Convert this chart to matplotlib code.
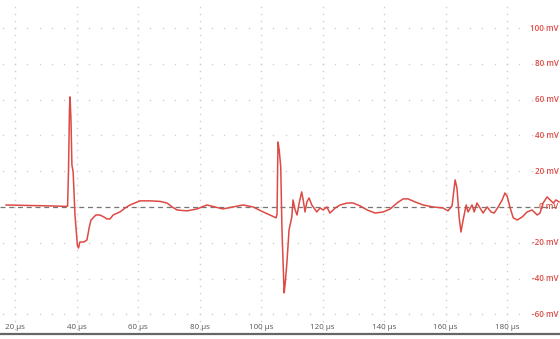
import matplotlib.pyplot as plt
import numpy as np

# time (us) and voltage (mV)
t_us = [17.1, 24.9, 31.4, 36.6, 37.1, 37.4, 37.7, 37.9, 38.2, 38.5, 38.9, 39.5,
        40.3, 40.65, 41.1, 42.4, 43.4, 44.1, 44.7, 45.4, 46.3, 47.6, 48.9, 49.9,
        50.9, 51.9, 54.1, 55.8, 57.4, 60.65, 63.9, 67.2, 69.4, 71.1, 72.7, 75.9,
        79.2, 82.4, 85.0, 87.6, 90.9, 94.1, 97.4, 100.7, 102.9, 104.9, 105.2,
        105.5, 105.9, 106.4, 106.8, 107.5, 107.8, 108.4, 109.1, 110.0, 110.4,
        111.1, 111.7, 112.4, 113.2, 113.7, 114.3, 114.9, 115.6, 116.5, 117.2,
        118.1, 119.2, 120.2, 121.4, 122.4, 124.1, 125.7, 128.0, 129.9, 132.2,
        134.5, 137.1, 139.7, 142.0, 144.2, 146.2, 147.8, 150.1, 152.7, 155.9,
        159.2, 160.8, 162.1, 163.1, 163.7, 164.4, 165.0, 165.7, 166.7, 167.3,
        168.6, 169.3, 170.2, 171.2, 172.2, 173.5, 174.8, 175.8, 177.1, 178.4,
        179.3, 180.0, 181.0, 182.0, 183.3, 184.9, 186.5, 188.1, 189.8, 190.7,
        191.7, 193.0, 194.0, 195.0, 195.9, 196.9]
v_mv = [1.1, 0.8, 0.6, 0.3, 0.5, 20.7, 54.0, 61.5, 48.6, 23.5, 19.6, -4.5,
        -21.8, -22.9, -19.6, -19.6, -18.4, -11.7, -7.3, -6.1, -4.5, -4.5, -5.6, -6.7,
        -6.7, -4.5, -2.8, -0.6, 1.1, 3.4, 3.4, 3.1, 2.2, 0.0, -1.7, -2.2,
        -1.1, 1.1, 0.0, -1.1, 0.0, 1.1, 0.0, -2.8, -4.5, -6.1, -3.9,
        36.3, 31.8, 22.3, -12.8, -48.0, -43.6, -31.3, -12.8, -5.6, 3.9,
        -1.7, -4.5, 2.2, 8.4, 3.9, -2.8, 2.8, 5.0, 1.1, -0.6,
        -2.8, -0.6, -1.7, 0.0, -3.4, -0.6, 1.1, 2.2, 2.2, 0.6,
        -1.7, -3.4, -2.8, -1.1, 2.2, 4.5, 4.5, 2.8, 1.1, 0.0,
        -0.6, -2.2, 0.6, 15.1, 10.6, -5.6, -14.0, -7.3, 1.1, -2.8,
        1.1, -2.8, 2.2, -0.6, -3.4, 0.0, -2.8, -3.4, 0.0, 3.9,
        7.8, 6.1, -0.6, -6.1, -7.3, -5.6, -2.8, -1.7, -4.5, -3.4,
        2.2, 5.6, 3.9, 2.2, 3.9, 2.8]

x_ticks = [20, 40, 60, 80, 100, 120, 140, 160, 180]
y_ticks = [-60, -40, -20, 0, 20, 40, 60, 80, 100]
x_labels = ['20 µs', '40 µs', '60 µs', '80 µs', '100 µs', '120 µs', '140 µs', '160 µs', '180 µs']
y_labels = ['-60 mV', '-40 mV', '-20 mV', '0 mV', '20 mV', '40 mV', '60 mV', '80 mV', '100 mV']

RED = '#dd4a44'
plt.rcParams['font.family'] = ['Open Sans', 'DejaVu Sans']

fig = plt.figure(figsize=(5.6, 3.39), dpi=100)
ax = fig.add_axes([0, 5 / 339, 1, 334 / 339])
ax.set_xlim(15.12, 197.2)
ax.set_ylim(-71.0, 115.65)

# dotted grid: dots every 4 mV on vertical lines, every 4 us on horizontal lines
ydots = np.arange(-72, 116, 4)
for x in x_ticks:
    ax.plot([x] * len(ydots), ydots, ls='none', marker='s', ms=1.0, mew=0, color='#cfcfcf', zorder=1)
xdots = np.arange(16, 198, 4)
for y in y_ticks:
    if y == 0:
        continue
    ax.plot(xdots, [y] * len(xdots), ls='none', marker='s', ms=1.0, mew=0, color='#cfcfcf', zorder=1)

ax.axhline(0, color='#777777', lw=0.9, ls=(0, (4, 3)), zorder=2)
ax.plot(t_us, v_mv, color=RED, lw=1.1, zorder=3)

for x, s in zip(x_ticks, x_labels):
    ax.text(x, -67.3, s, ha='center', va='center', fontsize=5.8, color='#555555')
for y, s in zip(y_ticks, y_labels):
    ax.text(196.7, y, s, ha='right', va='center', fontsize=5.8, color=RED, fontweight='semibold')

for side in ['top', 'left', 'right']:
    ax.spines[side].set_visible(False)
ax.spines['bottom'].set_color('#666666')
ax.spines['bottom'].set_linewidth(1.6)
ax.set_xticks([])
ax.set_yticks([])

fig.savefig('out.png', dpi=100)
